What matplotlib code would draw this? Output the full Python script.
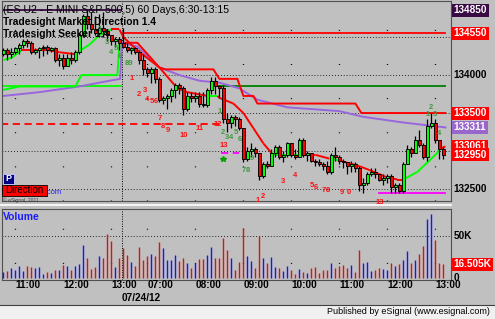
import matplotlib
matplotlib.use("Agg")
import matplotlib.pyplot as plt
import matplotlib.transforms as mtransforms
from matplotlib.lines import Line2D
from matplotlib.patches import Rectangle

plt.rcParams['font.family'] = ['Liberation Sans', 'DejaVu Sans']

title = '(ES U2 - E MINI S&P 500,5) 60 Days,6:30-13:15'
study_1 = 'Tradesight Market Direction 1.4'
study_2 = 'Tradesight Seeker 1.4'
date_label = '07/24/12'

# 5 minute bars: 10:45-13:10 on the first day, 06:30-13:10 on the second
bar_times = ([f'{m // 60:02d}:{m % 60:02d}' for m in range(645, 791, 5)] +
             [f'{m // 60:02d}:{m % 60:02d}' for m in range(390, 791, 5)])
session_break = 29.6

first_open = 134275
closes = [134325, 134275, 134300, 134350, 134400, 134450, 134425, 134300, 134325, 134350,
          134375, 134325, 134350, 134200, 134225, 134125, 134225, 134200, 134300, 134525,
          134775, 134675, 134600, 134550, 134625, 134575, 134525, 134450, 134475, 134425,
          134375, 134325, 134350, 134300, 134200, 134075, 134025, 134075, 133950, 133675,
          133700, 133725, 133800, 133875, 133825, 133550, 133725, 133700, 133725, 133625,
          133600, 133800, 133925, 133850, 133825, 133425, 133375, 133450, 133425, 133300,
          132900, 133000, 133025, 132975, 132675, 132825, 132800, 132975, 133050, 132925,
          132950, 133100, 132950, 132925, 133150, 132950, 132975, 132875, 132850, 132825,
          132800, 132725, 132950, 132925, 132875, 132850, 132800, 132825, 132775, 132550,
          132575, 132700, 132725, 132700, 132625, 132650, 132675, 132525, 132550, 132475,
          132825, 133025, 132975, 133150, 133075, 132925, 133325, 133375, 133150, 133025,
          132950]
highs = [134350, 134350, 134350, 134375, 134425, 134475, 134475, 134450, 134350, 134375,
         134400, 134400, 134375, 134375, 134275, 134275, 134275, 134300, 134325, 134550,
         134800, 134850, 134825, 134775, 134800, 134825, 134600, 134525, 134500, 134500,
         134625, 134425, 134375, 134375, 134325, 134275, 134100, 134100, 134100, 133975,
         133725, 133750, 133825, 133900, 133900, 133850, 133775, 133775, 133775, 133775,
         133775, 133825, 133975, 133975, 133875, 133875, 133500, 133475, 133475, 133450,
         133300, 133050, 133100, 133050, 132975, 132850, 132875, 133025, 133075, 133075,
         133000, 133125, 133100, 133025, 133175, 133175, 133000, 132975, 132900, 132900,
         132850, 132875, 132975, 133050, 132950, 132900, 132850, 132875, 132850, 132800,
         132650, 132725, 132775, 132775, 132700, 132700, 132700, 132700, 132575, 132575,
         132850, 133075, 133050, 133200, 133275, 133100, 133425, 133500, 133425, 133150,
         133050]
lows = [134250, 134200, 134225, 134275, 134275, 134350, 134375, 134275, 134275, 134225,
        134250, 134275, 134300, 134175, 134125, 134075, 134125, 134150, 134175, 134275,
        134500, 134600, 134550, 134525, 134525, 134500, 134450, 134400, 134375, 134325,
        134350, 134300, 134275, 134275, 134150, 134000, 133975, 133900, 133900, 133650,
        133625, 133550, 133650, 133700, 133750, 133475, 133525, 133650, 133650, 133575,
        133575, 133575, 133750, 133750, 133700, 133375, 133250, 133300, 133325, 133275,
        132850, 132875, 132925, 132925, 132625, 132650, 132775, 132800, 132925, 132900,
        132850, 132925, 132925, 132900, 132925, 132925, 132875, 132850, 132800, 132800,
        132750, 132700, 132700, 132875, 132825, 132775, 132700, 132725, 132725, 132475,
        132450, 132550, 132675, 132650, 132600, 132550, 132575, 132450, 132450, 132450,
        132450, 132825, 132925, 132975, 133050, 132900, 132875, 133300, 133100, 132900,
        132900]
volumes = [7100, 8700, 12700, 9500, 15000, 8700, 14300, 13500, 12700, 13500,
           4800, 7900, 6700, 10300, 9500, 16300, 15000, 10300, 14300, 16700,
           39700, 23800, 11500, 13500, 26600, 24600, 53200, 44800, 13500, 23800,
           36500, 27800, 19800, 15000, 37300, 22200, 26600, 29400, 26600, 43600,
           35700, 22200, 22200, 27800, 21000, 23800, 18300, 12700, 18300, 23000,
           23000, 27800, 37700, 24600, 24600, 48400, 34100, 24600, 10300, 19800,
           60300, 26600, 21000, 12700, 50400, 24600, 18600, 25800, 13500, 12700,
           8700, 14300, 9500, 5600, 11500, 7900, 6700, 12700, 13500, 6700,
           9500, 9500, 18300, 12700, 14300, 16300, 11900, 16300, 7900, 34100,
           18300, 19000, 8700, 10300, 12700, 11500, 10300, 18300, 15000, 17500,
           22200, 32500, 18600, 22200, 28600, 38900, 70200, 76200, 46000, 18300,
           16505]

# indicator lines read at their turning points (bar index, price)
trend_idx = [0, 2, 4.5, 7, 11.5, 14, 18, 18.5, 21.5, 24, 26, 27, 29, 30, 33.5, 39, 43.5,
             46, 51, 53.5, 54, 57.5, 60, 62.5, 65, 67, 68, 74, 78, 81.5, 84, 89, 91.5,
             96, 98.5, 100, 103.5, 106, 108.5, 109, 110.5]
trend_val = [134200, 134225, 134325, 134325, 134325, 134300, 134275, 134300, 134400, 134525,
             134575, 134600, 134600, 134500, 134325, 134100, 133825, 133775, 133725, 133725,
             133700, 133625, 133500, 133300, 133100, 132975, 132950, 132950, 132950, 132900,
             132875, 132800, 132750, 132650, 132625, 132625, 132725, 132850, 132975, 133025,
             133061]
trend_up = [1, 1, 0, 0, 0, 0, 1, 1, 1, 1, 1, 0, 0, 0, 0, 0, 0, 0, 1, 0,
            0, 0, 0, 0, 0, 1, 1, 0, 0, 1, 0, 0, 0, 0, 0, 1, 1, 1, 1, 0]

vwap_idx = [0, 9, 19, 26.5, 29.2, 29.6, 33.5, 36.5, 39, 44, 49, 54, 59, 63.5, 71, 84, 90, 100, 110.5]
vwap_val = [133725, 133775, 133850, 133925, 133950, 134425, 134375, 134225, 134100, 134000,
            133925, 133900, 133825, 133675, 133575, 133525, 133450, 133375, 133311]

band_idx = [30.5, 33.5, 39, 40.5, 52.5, 54, 58.5, 60, 62.5, 63.5, 88, 89.5, 110.5]
band_val = [134425, 134425, 134100, 134075, 134075, 133950, 133950, 133725, 133725, 133625,
            133625, 133500, 133500]

support_idx = [-0.5, 4, 18, 19.5, 28.5, 29]
support_val = [133800, 133850, 133850, 134000, 134000, 134400]

level_start = [-0.5, -0.5, 30, 53.5, -0.5, 54.5, 94]
level_end = [29.5, 29.5, 110.5, 110.5, 55, 59, 110.5]
level_val = [134850, 133850, 134550, 133850, 133350, 132975, 132450]
level_color = ['#3a0a44', '#00ff00', '#ff0000', '#008000', '#ff0000', '#ff00ff', '#ff00ff']
level_style = ['-', '-', '-', '-', (0, (4, 2.5)), (0, (4, 2.5)), '-']

count_text = ['1', '3', '4', '5', '6', '89',
              '1', '2', '3', '4', '5', '6', '7', '8', '9', '10', '11', '12', '13',
              '1', '2', '3', '4', '5', '6', '7', '8', '9',
              '1', '2', '3', '4', '5', '6', '7', '8', '9', '0', '13',
              '1', '2', '3', '4']
count_idx = [24, 26, 27, 28, 29, 31.5,
             32, 34, 35.5, 36, 37, 38, 39, 39.8, 41, 45, 49, 53.5, 55,
             54, 55, 56, 57, 58, 59, 60, 61, 62,
             63.5, 65, 70, 73, 77, 78, 80, 81.2, 84.5, 86.3, 94,
             106, 107, 108, 109]
count_val = [134600, 134425, 134300, 134350, 134250, 134150,
             133950, 133750, 133800, 133675, 133650, 133650, 133425, 133325, 133275, 133200,
             133300, 133350, 133075,
             133525, 133250, 133175, 133175, 133250, 133150, 132750, 132750, 132900,
             132350, 132400, 132600, 132675, 132550, 132525, 132475, 132475, 132450, 132450,
             132325,
             133475, 133575, 133475, 133225]
count_green = [1, 1, 1, 1, 1, 1,
               0, 0, 0, 0, 0, 0, 0, 0, 0, 0, 0, 0, 0,
               1, 1, 1, 1, 1, 1, 1, 1, 1,
               0, 0, 0, 0, 0, 0, 0, 0, 0, 0, 0,
               1, 1, 1, 1]

price_ticks = [134500, 134000, 133500, 133000, 132500]
marker_vals = [134850, 134550, 133500, 133311, 133061, 132950]
marker_cols = ['#3a0a44', '#ff0000', '#ff0000', '#9966cc', '#ff0000', '#ff0000']

BG = '#c0c0c0'
W, H = 495, 319
fig = plt.figure(figsize=(W / 100, H / 100), dpi=100, facecolor=BG)
ax = fig.add_axes([2 / W, 1 - 201 / H, 449 / W, 200 / H], facecolor=BG)
axv = fig.add_axes([2 / W, 39 / H, 449 / W, 71 / H], facecolor=BG)

n = len(closes)
idx = list(range(n))
opens = [first_open] + closes[:-1]

for a in (ax, axv):
    a.set_xlim(-0.35, 111.9)
    a.set_xticks([])
    a.set_yticks([])
    for s in a.spines.values():
        s.set_color('#505050')
        s.set_linewidth(0.8)
ax.set_ylim(132342, 134975)
axv.set_ylim(-2000, 82500)

hour_idx = [i for i, t in enumerate(bar_times) if t.endswith(':00')]

# grid
for p in price_ticks:
    ax.axhline(p, color='black', lw=0.7, ls=(0, (0.8, 2.2)), zorder=1)
for i in hour_idx:
    ax.axvline(i, color='black', lw=0.9, ls=(0, (0.8, 26.5)), zorder=1)
    axv.axvline(i, color='black', lw=0.9, ls=(14, (0.8, 26.5)), zorder=1)
axv.axhline(50000, color='black', lw=0.7, ls=(0, (0.8, 2.2)), zorder=1)
for a in (ax, axv):
    a.axvline(session_break, color='black', lw=0.7, ls=(0, (1, 1.5)), zorder=1)

# levels and indicator lines
for s, e, v, c, st in zip(level_start, level_end, level_val, level_color, level_style):
    ax.plot([s, e], [v, v], color=c, lw=1.3, ls=st, zorder=2)
ax.plot(vwap_idx, vwap_val, color='#9966dd', lw=1.4, zorder=2)
ax.plot(support_idx, support_val, color='#00ff00', lw=1.4, zorder=2)
ax.plot(band_idx, band_val, color='#ff0000', lw=1.4, zorder=2)
for j in range(len(trend_idx) - 1):
    ax.plot(trend_idx[j:j + 2], trend_val[j:j + 2],
            color='#00ff00' if trend_up[j] else '#ff0000', lw=1.4, zorder=2,
            solid_capstyle='butt')
ax.plot([55], [132900], marker='*', color='#00a000', ms=4, zorder=4)

# candles
ax.vlines(idx, lows, highs, color='black', lw=0.9, zorder=3)
body_low = [min(o, c) for o, c in zip(opens, closes)]
body_h = [max(abs(c - o), 8) for o, c in zip(opens, closes)]
body_col = ['#00ff00' if c >= o else '#ff0000' for o, c in zip(opens, closes)]
ax.bar(idx, body_h, bottom=body_low, width=0.66, color=body_col, edgecolor='black',
       linewidth=0.65, zorder=3)

# counts
for t, i, v, g in zip(count_text, count_idx, count_val, count_green):
    ax.text(i, v, t, color='#3c9a3c' if g else '#ff1010', fontsize=5.5, fontweight='bold',
            ha='center', va='center', zorder=5, clip_on=False)

# volume
vol_col = ['#1414ff' if c > o else '#e01010' for o, c in zip(opens, closes)]
axv.vlines(idx, 0, volumes, colors=vol_col, lw=1.0, zorder=3)

# titles
def px(x, y):
    return ((x - 2) / 449, (201 - y) / 200)

ax.text(*px(3, 10), title, transform=ax.transAxes, fontsize=7.6, va='center', zorder=6)
ax.text(*px(3, 22), study_1, transform=ax.transAxes, fontsize=7.4, fontweight='bold',
        va='center', zorder=6)
ax.text(*px(3, 34), study_2, transform=ax.transAxes, fontsize=7.4, fontweight='bold',
        va='center', zorder=6)

# bottom-left widgets
ax.add_patch(Rectangle(px(3, 184), 11 / 449, 10 / 200, transform=ax.transAxes,
                       facecolor='#000080', edgecolor='#d0d0ff', lw=0.6, zorder=6))
ax.text(*px(8.5, 179), 'P', transform=ax.transAxes, color='white', fontsize=6.5,
        fontweight='bold', ha='center', va='center', zorder=7)
ax.text(*px(20, 193), 'eSignal.com', transform=ax.transAxes, color='#2020ff',
        fontsize=5.5, va='center', zorder=5)
ax.add_patch(Rectangle(px(2, 196), 45 / 449, 11 / 200, transform=ax.transAxes,
                       facecolor='#ff0000', edgecolor='black', lw=0.6, zorder=6))
ax.text(*px(24.5, 190.5), 'Direction', transform=ax.transAxes, color='black',
        fontsize=7, ha='center', va='center', zorder=7)
ax.text(*px(3, 200.5), '\u00a9 eSignal, 2011', transform=ax.transAxes, color='#404040',
        fontsize=3.6, va='center', zorder=7)

axv.text(1 / 449, 0.887, 'Volume', transform=axv.transAxes, color='#1a1aff',
         fontsize=7.4, fontweight='bold', va='center')

# right axis
tr = mtransforms.blended_transform_factory(ax.transAxes, ax.transData)
for p in price_ticks:
    ax.text(1.006, p, f'{p}', transform=tr, fontsize=7.2, fontweight='bold',
            va='center', clip_on=False)
for v, c in zip(marker_vals, marker_cols):
    ax.text(1.006, v, f'{v}', transform=tr, fontsize=7.2, fontweight='bold',
            color='white', va='center', clip_on=False,
            bbox=dict(boxstyle='square,pad=0.15', facecolor=c, edgecolor='none'))

trv = mtransforms.blended_transform_factory(axv.transAxes, axv.transData)
axv.text(1.006, 50000, '50K', transform=trv, fontsize=7.2, fontweight='bold',
         va='center', clip_on=False)
axv.text(1.006, 0, '0', transform=trv, fontsize=7.2, fontweight='bold',
         va='center', clip_on=False)
axv.text(1.006, volumes[-1], f'{volumes[-1] / 1000:.3f}K', transform=trv, fontsize=7.2,
         fontweight='bold', color='white', va='center', clip_on=False,
         bbox=dict(boxstyle='square,pad=0.15', facecolor='#ff0000', edgecolor='none'))

# time axis
trx = mtransforms.blended_transform_factory(axv.transData, axv.transAxes)
for i in hour_idx:
    axv.text(i, -0.075, bar_times[i], transform=trx, fontsize=7.2, fontweight='bold',
             ha='left', va='center', clip_on=False)
axv.text(session_break, -0.255, date_label, transform=trx, fontsize=7.2, fontweight='bold',
         ha='left', va='center', clip_on=False)

# pane separator and footer
fig.add_artist(Line2D([0, 451 / W], [1 - 205 / H] * 2, color='white', lw=1.2))
fig.add_artist(Rectangle((0, 0), 1, 14 / H, transform=fig.transFigure,
                         facecolor='#f0f0f0', edgecolor='none'))
fig.add_artist(Line2D([0, 1], [14 / H, 14 / H], color='#404040', lw=0.8))
fig.text(490 / W, 7 / H, 'Published by eSignal (www.esignal.com)', fontsize=6.5,
         ha='right', va='center')

fig.savefig('out.png', dpi=100, facecolor=BG)
